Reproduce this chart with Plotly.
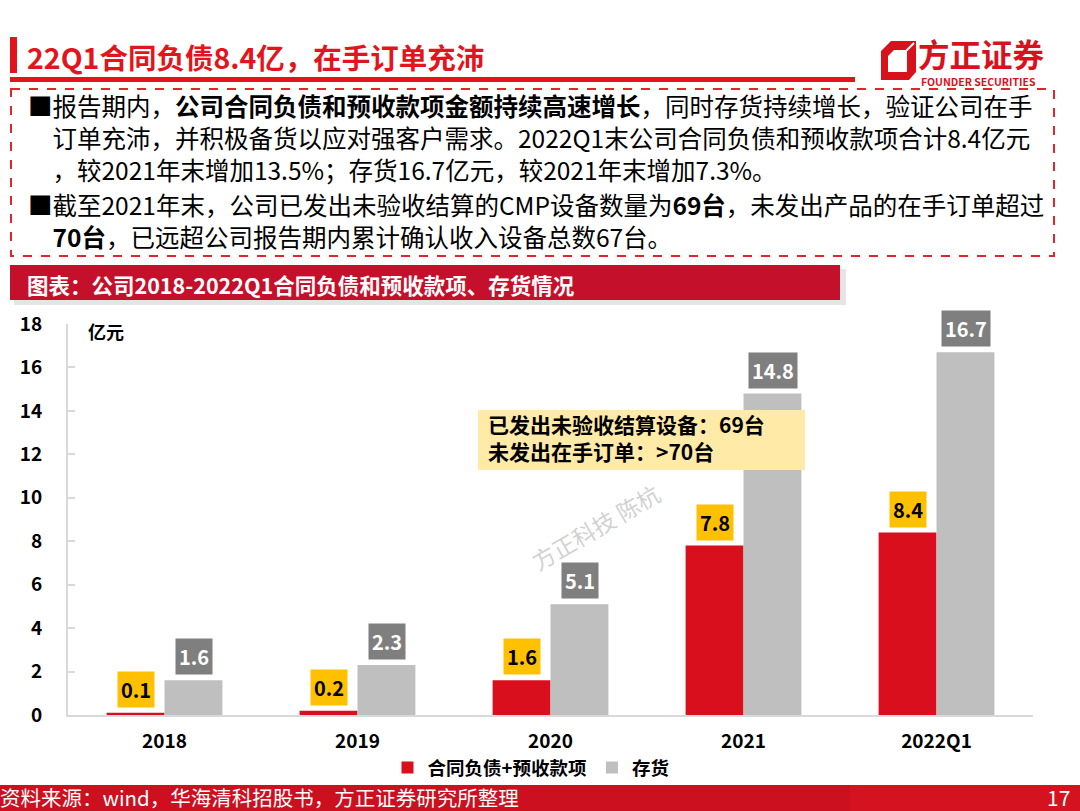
import plotly.graph_objects as go

# ---------------- data ----------------
categories = ["2018", "2019", "2020", "2021", "2022Q1"]
contract_liab = [0.1, 0.2, 1.6, 7.8, 8.4]      # 合同负债+预收款项
inventory = [1.6, 2.3, 5.1, 14.8, 16.7]        # 存货
series_names = ["合同负债+预收款项", "存货"]
y_ticks = [0, 2, 4, 6, 8, 10, 12, 14, 16, 18]

FONT = "Noto Sans CJK SC"
RED = "#D90F1D"
GRAY = "#BFBFBF"
W, H = 1080, 811
L, R, T, B = 68, 47, 324, 96
PW, PH = W - L - R, H - T - B


def X(px):
    return (px - L) / PW


def Y(py):
    return (H - B - py) / PH


fig = go.Figure()
fig.add_trace(go.Bar(x=categories, y=contract_liab, name=series_names[0],
                     marker=dict(color=RED, line=dict(width=0))))
fig.add_trace(go.Bar(x=categories, y=inventory, name=series_names[1],
                     marker=dict(color=GRAY, line=dict(width=0))))

ann = []
# data labels (category index positions on the category axis)
for i, v in enumerate(contract_liab):
    ann.append(dict(x=i, y=v, xref="x", yref="y", text=f"<b>{v}</b>", showarrow=False,
                    xshift=-29, yshift=5, yanchor="bottom", bgcolor="#FFC000",
                    borderpad=3, font=dict(family=FONT, size=20, color="black")))
for i, v in enumerate(inventory):
    ann.append(dict(x=i, y=v, xref="x", yref="y", text=f"<b>{v}</b>", showarrow=False,
                    xshift=29, yshift=5, yanchor="bottom", bgcolor="#7F7F7F",
                    borderpad=3, font=dict(family=FONT, size=20, color="white")))


def txt(px, py, text, size, color="black", xanchor="left", yanchor="middle", **kw):
    ann.append(dict(x=X(px), y=Y(py), xref="paper", yref="paper", text=text,
                    showarrow=False, xanchor=xanchor, yanchor=yanchor,
                    font=dict(family=FONT, size=size, color=color), **kw))


# unit
txt(86, 331, "<b>亿元</b>", 18)
# callout text
txt(486, 437, "<b>已发出未验收结算设备：69台<br>未发出在手订单：>70台</b>", 21, align="left")
# watermark
txt(595, 527, "方正科技 陈杭", 23, color="rgba(170,170,170,0.55)", xanchor="center",
    textangle=-30)

# header
txt(25, 56, "<b>22Q1合同负债8.4亿，在手订单充沛</b>", 28.5, color="#E3141B")
txt(916, 53, "<b>方正证券</b>", 31.5, color="#D8121D")
txt(919, 81, "<b>FOUNDER SECURITIES</b>", 10.5, color="#D8121D")

# bullet text (indent continuation lines by an invisible bullet)
BS = 24.5
IND = '<span style="color:rgba(0,0,0,0)">■</span>'
para1 = ("■报告期内，<b>公司合同负债和预收款项金额持续高速增长</b>，同时存货持续增长，验证公司在手<br>"
         + IND + "订单充沛，并积极备货以应对强客户需求。2022Q1末公司合同负债和预收款项合计8.4亿元<br>"
         + IND + "，较2021年末增加13.5%；存货16.7亿元，较2021年末增加7.3%。")
para2 = ("■截至2021年末，公司已发出未验收结算的CMP设备数量为<b>69台</b>，未发出产品的在手订单超过<br>"
         + IND + "<b>70台</b>，已远超公司报告期内累计确认收入设备总数67台。")
txt(26, 137.5, para1, BS, align="left")
txt(26, 220, para2, BS, align="left")

# chart title bar text
txt(25, 284, "<b>图表：公司2018-2022Q1合同负债和预收款项、存货情况</b>", 21.5, color="white")

# footer
txt(-2, 797, "资料来源：wind，华海清科招股书，方正证券研究所整理", 20.5, color="white")
txt(1058, 797, "17", 21, color="white", xanchor="center")


def rect(x0, y0, x1, y1, fill=None, line=None, layer="above", **kw):
    d = dict(type="rect", xref="paper", yref="paper", x0=X(x0), x1=X(x1),
             y0=Y(y0), y1=Y(y1), layer=layer,
             fillcolor=fill if fill else "rgba(0,0,0,0)",
             line=line if line else dict(width=0))
    d.update(kw)
    return d


def path(points):
    s = ""
    for i, (a, b) in enumerate(points):
        s += ("M" if i == 0 else "L") + f"{X(a)},{Y(b)} "
    return s + "Z "


shapes = [
    # header
    rect(10, 37, 17, 73, fill="#E3141B"),
    rect(10, 77, 855, 82, fill="#E3141B"),
    # dashed box
    rect(11, 89, 1054, 256, line=dict(color="#E0262A", width=2, dash="dash")),
    # chart title bar shadow + bar
    rect(14, 269, 846, 305, fill="rgba(0,0,0,0.10)"),
    rect(10, 265, 840, 300, fill="#C5102C"),
    # callout box
    rect(478, 410, 805, 470, fill="#FFEAA8"),
    # footer band
    rect(-5, 785, 1085, 815, fill="#CC1020"),
    rect(850, 785, 1085, 815, fill="#D5121F"),
]
# logo icon (frame)
outer = [(891, 41), (916, 41), (916, 72), (909, 80), (881, 80), (881, 51)]
inner = [(888, 72), (907, 72), (907, 50), (894, 50), (888, 56)]
logo_path = path(outer) + path(inner[::-1])
shapes.append(dict(type="path", xref="paper", yref="paper", path=logo_path,
                   fillcolor="#D8121D", line=dict(width=0), layer="above"))
shapes.append(dict(type="line", xref="paper", yref="paper", x0=X(905), y0=Y(52),
                   x1=X(914), y1=Y(43), line=dict(color="white", width=2), layer="above"))

fig.update_layout(
    width=W, height=H,
    margin=dict(l=L, r=R, t=T, b=B, pad=0),
    paper_bgcolor="white", plot_bgcolor="white",
    barmode="group", bargap=0.4, bargroupgap=0,
    font=dict(family=FONT, color="black"),
    showlegend=True,
    legend=dict(orientation="h", x=X(531), xanchor="center", y=Y(768), yanchor="middle",
                font=dict(family=FONT, size=18.5, weight="bold"), itemwidth=30,
                bgcolor="rgba(0,0,0,0)", traceorder="normal"),
    xaxis=dict(type="category", showgrid=False, showline=True, linecolor="#D9D9D9",
               linewidth=2, ticks="", tickfont=dict(family=FONT, size=19, weight="bold"),
               ticklabelstandoff=8, fixedrange=True),
    yaxis=dict(range=[0, 18], tickvals=y_ticks, showgrid=False, zeroline=False,
               showline=True, linecolor="#D9D9D9", linewidth=2, ticks="inside",
               ticklen=7, tickcolor="#D9D9D9", tickwidth=1.5,
               tickfont=dict(family=FONT, size=19, weight="bold"),
               ticklabelstandoff=20, fixedrange=True),
    annotations=ann,
    shapes=shapes,
)

fig.write_html("out.html", config={"displayModeBar": False},
               post_script="document.body.style.margin='0px';")
